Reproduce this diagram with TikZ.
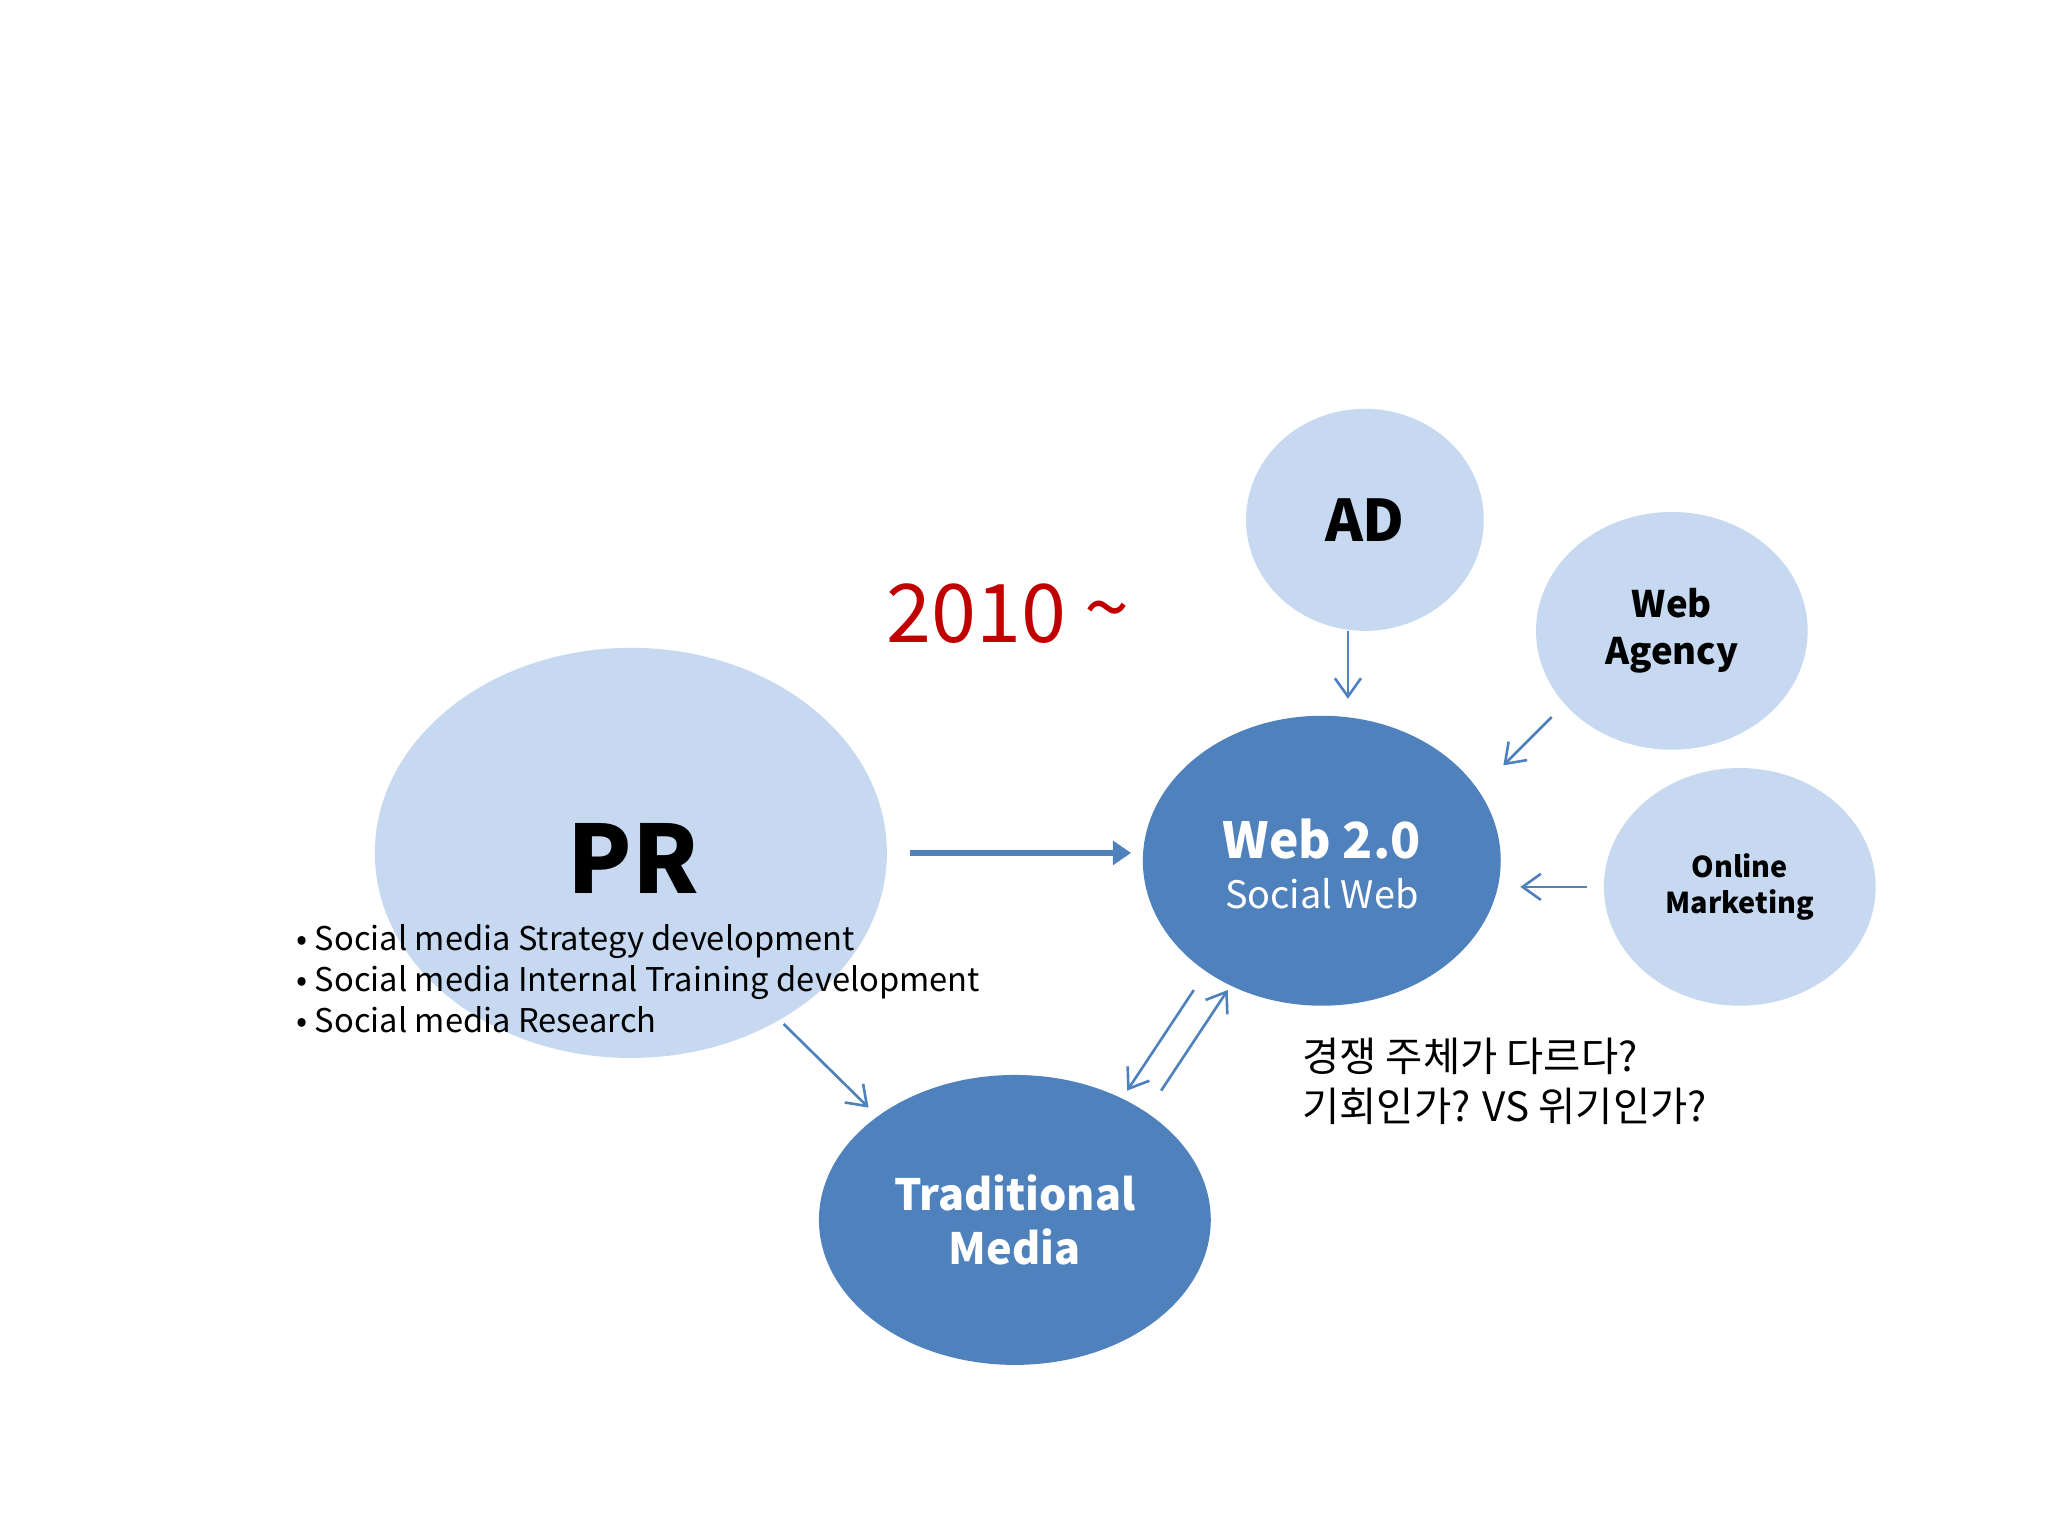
\documentclass[tikz,border=0pt]{standalone}
\usepackage{fontspec}
\setmainfont{Noto Sans CJK KR}
\usetikzlibrary{arrows.meta,shapes.geometric}
\definecolor{lightb}{HTML}{C6D9F1}
\definecolor{darkb}{HTML}{4F81BD}
\definecolor{redt}{HTML}{C00000}
\begin{document}
\begin{tikzpicture}[x=0.5pt,y=-0.5pt,
  light/.style={ellipse,fill=lightb,inner sep=0pt,align=center,font=\bfseries},
  dark/.style={ellipse,fill=darkb,inner sep=0pt,align=center,text=white},
  arr/.style={draw=darkb,line width=1pt,-{Straight Barb[length=7pt,width=10pt]}}]
\useasboundingbox (0,0) rectangle (1568,1176);
\fill[white] (0,0) rectangle (1568,1176);
\node[light,minimum width=196pt,minimum height=157pt] (pr) at (483,653) {};
\node[font=\bfseries\fontsize{36}{40}\selectfont] (prt) at (485,657) {PR};
\node[anchor=north west,align=left,font=\fontsize{12.5}{15.7}\selectfont] (bul) at (220,701)
 {• Social media Strategy development\\• Social media Internal Training development\\• Social media Research};
\node[light,minimum width=91pt,minimum height=85pt,font=\bfseries\fontsize{22}{26}\selectfont] (ad) at (1045,398) {AD};
\node[light,minimum width=104pt,minimum height=91pt,font=\bfseries\fontsize{14}{18}\selectfont] (wa) at (1280,483) {Web\\Agency};
\node[light,minimum width=104pt,minimum height=91pt,font=\bfseries\fontsize{11}{14}\selectfont] (om) at (1332,679) {Online\\Marketing};
\node[dark,minimum width=137pt,minimum height=111pt] (web) at (1012,659) {};
\node[text=white,font=\bfseries\fontsize{19}{22}\selectfont] (wt) at (1012,642) {Web 2.0};
\node[text=white,font=\fontsize{14.5}{18}\selectfont] (ws) at (1012,684) {Social Web};
\node[dark,minimum width=150pt,minimum height=111pt,font=\bfseries\fontsize{16.5}{21}\selectfont] (tm) at (777,934) {Traditional\\Media};
\node[text=redt,font=\fontsize{31}{34}\selectfont] (yr) at (772,470) {2010 \raisebox{2pt}{\textasciitilde}};
\node[anchor=north west,align=left,font=\fontsize{15.5}{19}\selectfont] (kr) at (990,788) {경쟁 주체가 다르다?\\기회인가? VS 위기인가?};
\coordinate (a1) at (1032,483); \coordinate (a2) at (1032,535);
\coordinate (b1) at (1188,549); \coordinate (b2) at (1151,586);
\coordinate (c1) at (1215,679); \coordinate (c2) at (1164,679);
\coordinate (d1) at (697,653); \coordinate (d2) at (866,653);
\coordinate (e1) at (600,784); \coordinate (e2) at (665,848);
\coordinate (f1) at (914,758); \coordinate (f2) at (863,835);
\coordinate (g1) at (889,835); \coordinate (g2) at (940,758);
\draw[arr] (a1) -- (a2);
\draw[arr] (b1) -- (b2);
\draw[arr] (c1) -- (c2);
\draw[draw=darkb,line width=2.2pt,-{Triangle[length=7pt,width=9pt]}] (d1) -- (d2);
\draw[arr] (e1) -- (e2);
\draw[arr] (f1) -- (f2);
\draw[arr] (g1) -- (g2);
\end{tikzpicture}
\end{document}
